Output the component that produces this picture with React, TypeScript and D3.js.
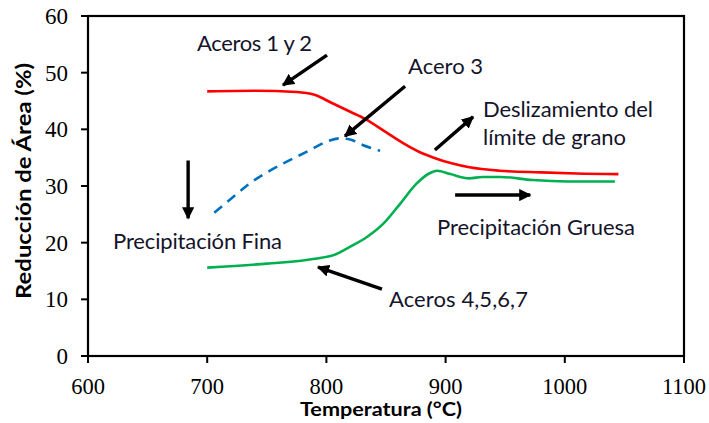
import React from "react";
import * as d3 from "d3";

// Temperature (°C) vs. reduction of area (%)
const acerosUnoYDosT = [700, 740, 775, 790, 805, 820, 832, 850, 864, 878, 890, 905, 920, 945, 980, 1010, 1045];
const acerosUnoYDosRA = [46.7, 46.8, 46.6, 46.1, 44.6, 43.1, 41.9, 39.5, 37.6, 36.0, 35.0, 34.0, 33.3, 32.7, 32.4, 32.2, 32.1];

const aceroTresT = [706, 722, 736, 764, 786, 800, 811, 820, 831, 845];
const aceroTresRA = [25.3, 28.1, 30.5, 34.0, 36.3, 37.8, 38.4, 38.2, 37.2, 36.2];

const acerosCuatroASieteT = [700, 750, 792, 806, 820, 834, 848, 862, 876, 887, 893, 904, 920, 931, 946, 973, 1002, 1042];
const acerosCuatroASieteRA = [15.6, 16.3, 17.2, 17.8, 19.3, 21.0, 23.4, 26.9, 30.5, 32.3, 32.7, 32.1, 31.35, 31.6, 31.6, 31.05, 30.8, 30.8];

const xTicks = [600, 700, 800, 900, 1000, 1100];
const yTicks = [0, 10, 20, 30, 40, 50, 60];

// Annotation arrows in data coordinates: [tailT, tailRA, headT, headRA]
const arrowSegments: [number, number, number, number][] = [
  [800.5, 53.1, 763.6, 47.8], // Aceros 1 y 2
  [866, 47.6, 815.6, 38.8],   // Acero 3
  [891, 36.35, 923, 42.2],    // Deslizamiento del límite de grano
  [908, 28.4, 971, 28.4],     // Precipitación Gruesa
  [684, 34.5, 684, 24.3],     // Precipitación Fina
  [846.6, 11.8, 793, 15.7],   // Aceros 4,5,6,7
];

const annotationTexts = [
  "Aceros 1 y 2",
  "Acero 3",
  "Deslizamiento del",
  "límite de grano",
  "Precipitación Fina",
  "Precipitación Gruesa",
  "Aceros 4,5,6,7",
];
// left/baseline anchors (T, RA) and set widths (px) for the annotation texts
const annotationT = [691.4, 868.5, 931.4, 931.4, 621, 892.8, 852.5];
const annotationRA = [53.8, 49.8, 42.2, 37.2, 18.9, 21.35, 8.65];
const annotationWidth = [115, 75, 170, 143, 169, 198, 139];

const W = 709;
const H = 423;
const margin = { left: 88, top: 16, right: 25, bottom: 67 };

export default function App() {
  const x = d3.scaleLinear().domain([600, 1100]).range([margin.left, W - margin.right]);
  const y = d3.scaleLinear().domain([0, 60]).range([H - margin.bottom, margin.top]);

  const mkLine = (ts: number[], vs: number[]) =>
    d3
      .line<number>()
      .x((_, i) => x(ts[i]))
      .y((v) => y(v))
      .curve(d3.curveMonotoneX)(vs) as string;

  const annFont = "Lato, 'Open Sans', sans-serif";
  const textColor = "#14142a";
  const serif = "'Liberation Serif', 'Times New Roman', serif";

  return (
    <svg
      width={W}
      height={H}
      style={{ position: "absolute", left: 0, top: 0, background: "#fff" }}
    >
      <defs>
        <marker
          id="ah"
          viewBox="0 0 10 10"
          refX="9"
          refY="5"
          markerWidth="3.6"
          markerHeight="3.6"
          markerUnits="strokeWidth"
          orient="auto"
        >
          <path d="M0,0 L10,5 L0,10 z" fill="#000" />
        </marker>
      </defs>

      {/* frame */}
      <rect
        x={x(600)}
        y={y(60)}
        width={x(1100) - x(600)}
        height={y(0) - y(60)}
        fill="none"
        stroke="#000"
        strokeWidth={2.2}
      />

      {/* x ticks */}
      {xTicks.map((t) => (
        <g key={"x" + t}>
          <line x1={x(t)} x2={x(t)} y1={y(0)} y2={y(0) + 7} stroke="#000" strokeWidth={2} />
          <text x={x(t)} y={y(0) + 38} textAnchor="middle" fontFamily={serif} fontSize={22.5} fill="#000">
            {t}
          </text>
        </g>
      ))}

      {/* y ticks */}
      {yTicks.map((v) => (
        <g key={"y" + v}>
          <line x1={x(600) - 7} x2={x(600)} y1={y(v)} y2={y(v)} stroke="#000" strokeWidth={2} />
          <text x={x(600) - 20} y={y(v) + 8} textAnchor="end" fontFamily={serif} fontSize={23} fill="#000">
            {v}
          </text>
        </g>
      ))}

      {/* axis titles */}
      <text
        x={(x(600) + x(1100)) / 2 - 5}
        y={416}
        textAnchor="middle"
        fontFamily={annFont}
        fontWeight="bold"
        fontSize={19}
        textLength={162}
        lengthAdjust="spacingAndGlyphs"
        fill="#000"
      >
        Temperatura (°C)
      </text>
      <text
        transform={`translate(31,${(y(0) + y(60)) / 2 - 5}) rotate(-90)`}
        textAnchor="middle"
        fontFamily={annFont}
        fontWeight="bold"
        fontSize={20}
        textLength={236}
        lengthAdjust="spacingAndGlyphs"
        fill="#000"
      >
        Reducción de Área (%)
      </text>

      {/* series */}
      <path d={mkLine(acerosUnoYDosT, acerosUnoYDosRA)} fill="none" stroke="#ff0000" strokeWidth={2.6} />
      <path
        d={mkLine(aceroTresT, aceroTresRA)}
        fill="none"
        stroke="#0070c0"
        strokeWidth={2.6}
        strokeDasharray="10 7"
      />
      <path d={mkLine(acerosCuatroASieteT, acerosCuatroASieteRA)} fill="none" stroke="#00b050" strokeWidth={2.6} />

      {/* arrows */}
      {arrowSegments.map(([t0, v0, t1, v1], i) => (
        <line
          key={"a" + i}
          x1={x(t0)}
          y1={y(v0)}
          x2={x(t1)}
          y2={y(v1)}
          stroke="#000"
          strokeWidth={3.4}
          markerEnd="url(#ah)"
        />
      ))}

      {/* annotations */}
      {annotationTexts.map((s, i) => (
        <text
          key={"t" + i}
          x={x(annotationT[i])}
          y={y(annotationRA[i])}
          fontFamily={annFont}
          fontSize={22}
          textLength={annotationWidth[i]}
          lengthAdjust="spacing"
          fill={textColor}
        >
          {s}
        </text>
      ))}
    </svg>
  );
}
